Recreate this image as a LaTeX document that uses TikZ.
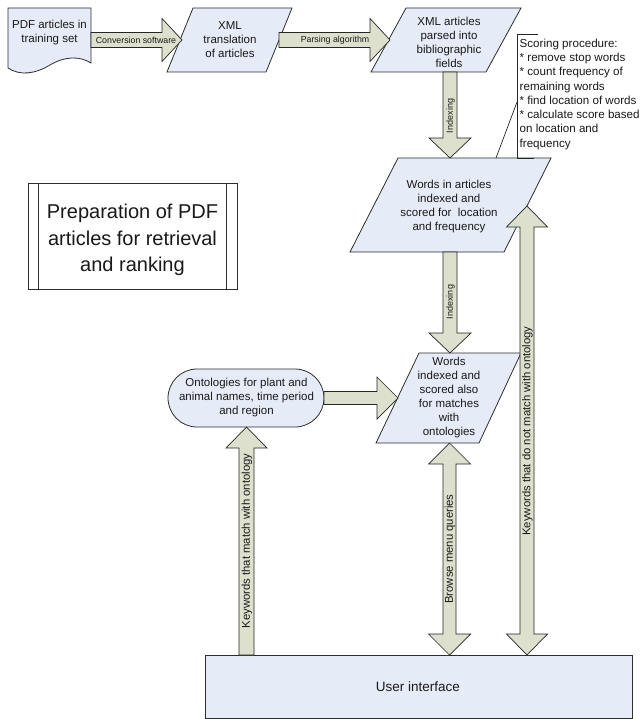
\documentclass[tikz,border=0pt]{standalone}
\usepackage{fontspec}
\setmainfont{Liberation Sans}
\usetikzlibrary{calc}
\definecolor{nodefill}{RGB}{229,235,247}
\definecolor{arrowfill}{RGB}{221,224,204}
\definecolor{edgecol}{RGB}{45,45,45}
\definecolor{txtcol}{RGB}{25,25,25}
\newcommand\fatarrow[5]{%
  \path (#1) coordinate (fa-s) (#2) coordinate (fa-t) ($(fa-t)!#5!(fa-s)$) coordinate (fa-b);
  \draw[fatstyle] ($(fa-s)!#3!90:(fa-t)$) -- ($(fa-b)!#3!-90:(fa-s)$) -- ($(fa-b)!#4!-90:(fa-s)$) -- (fa-t)
     -- ($(fa-b)!#4!90:(fa-s)$) -- ($(fa-b)!#3!90:(fa-s)$) -- ($(fa-s)!#3!-90:(fa-t)$) -- cycle;}
\newcommand\dblarrow[5]{%
  \path (#1) coordinate (fa-s) (#2) coordinate (fa-t) ($(fa-t)!#5!(fa-s)$) coordinate (fa-b) ($(fa-s)!#5!(fa-t)$) coordinate (fa-c);
  \draw[fatstyle] (fa-s) -- ($(fa-c)!#4!90:(fa-t)$) -- ($(fa-c)!#3!90:(fa-t)$) -- ($(fa-b)!#3!-90:(fa-s)$)
     -- ($(fa-b)!#4!-90:(fa-s)$) -- (fa-t) -- ($(fa-b)!#4!90:(fa-s)$) -- ($(fa-b)!#3!90:(fa-s)$)
     -- ($(fa-c)!#3!-90:(fa-t)$) -- ($(fa-c)!#4!-90:(fa-t)$) -- cycle;}
\begin{document}
\begin{tikzpicture}[x=1pt,y=-1pt,
  shapebox/.style={draw=edgecol,fill=nodefill,line width=0.8pt,line join=miter},
  fatstyle/.style={draw=black!85,fill=arrowfill,line width=0.7pt,line join=miter},
  txt/.style={align=center,text=txtcol,font=\fontsize{11.5}{14}\selectfont,inner sep=0pt},
  alabel/.style={text=txtcol,font=\fontsize{8.8}{10}\selectfont,inner sep=0pt},
  vlabel/.style={text=txtcol,font=\fontsize{11.3}{13}\selectfont,inner sep=0pt,rotate=90},
  ilabel/.style={text=txtcol,font=\fontsize{9}{10}\selectfont,inner sep=0pt,rotate=90}]
\useasboundingbox (0,0) rectangle (640,719);

% ---------- shapes ----------
% PDF document
\draw[shapebox] (8,8) -- (91,8) -- (91,63) .. controls (80,56) and (65,56) .. (50,65)
   .. controls (35,74) and (20,76) .. (8,68) -- cycle;
\node[txt] (pdf) at (49.5,33) {PDF articles in\\training set};

% XML translation
\draw[shapebox] (193,8) -- (292,8) -- (266,72) -- (167,72) -- cycle;
\node[txt] (xml) at (230,40) {XML\\translation\\of articles};

% XML parsed
\draw[shapebox] (406,8) -- (521,8) -- (486,72) -- (371,72) -- cycle;
\node[txt] (parsed) at (449,42) {XML articles\\parsed into\\bibliographic\\fields};

% Words in articles
\draw[shapebox] (398,158) -- (551,158) -- (504,252) -- (350,252) -- cycle;
\node[txt] (words1) at (449,207) {Words in articles\\indexed and\\scored for\ \ location\\and frequency};

% Words indexed also
\draw[shapebox] (419,353) -- (521,353) -- (479,443) -- (376,443) -- cycle;
\node[txt] (words2) at (449,398) {Words\\indexed and\\scored also\\for matches\\with\\ontologies};

% Ontologies
\draw[shapebox,rounded corners=29pt] (168,369) rectangle (324,427);
\node[txt] (onto) at (246.5,398) {Ontologies for plant and\\animal names, time period\\and region};

% User interface
\draw[shapebox] (205,655) rectangle (632,718);
\node[text=txtcol,font=\fontsize{13.5}{16}\selectfont,inner sep=0pt] (ui) at (418,687) {User interface};

% Preparation box
\draw[draw=edgecol,fill=white,line width=0.8pt] (28,183) rectangle (237,289);
\draw[draw=edgecol,line width=0.8pt] (38,183) -- (38,289) (226,183) -- (226,289);
\node[align=center,text=txtcol,font=\fontsize{20}{26.5}\selectfont,inner sep=0pt] (prep) at (132.5,240)
  {Preparation of PDF\\articles for retrieval\\and ranking};

% Scoring annotation
\draw[draw=black!85,line width=0.8pt] (538,34) -- (517,34) -- (517,158) -- (534,158);
\draw[draw=black!85,line width=0.7pt] (496,158) -- (517,102);
\node[anchor=north west,align=left,text=txtcol,font=\fontsize{11.6}{14.3}\selectfont,inner sep=0pt] (score) at (519.5,38.5)
  {Scoring procedure:\\* remove stop words\\* count frequency of\\remaining words\\* find location of words\\* calculate score based\\on location and\\frequency};

% ---------- connector end points ----------
\coordinate (a1s) at (91,40);   \coordinate (a1t) at (182,40);
\coordinate (a2s) at (279,40);  \coordinate (a2t) at (390,40);
\coordinate (i1s) at (450,72);  \coordinate (i1t) at (450,158);
\coordinate (i2s) at (450,252); \coordinate (i2t) at (450,353);
\coordinate (o1s) at (324,398); \coordinate (o1t) at (398,398);
\coordinate (k1s) at (246.5,655); \coordinate (k1t) at (246.5,427);
\coordinate (b1s) at (449.5,655); \coordinate (b1t) at (449.5,443);
\coordinate (k2s) at (527,655); \coordinate (k2t) at (527,206);

% ---------- fat arrows ----------
\fatarrow{a1s}{a1t}{7.5pt}{21.5pt}{20pt}
\fatarrow{a2s}{a2t}{7.5pt}{21.5pt}{20pt}
\fatarrow{i1s}{i1t}{7pt}{21pt}{20pt}
\fatarrow{i2s}{i2t}{7pt}{21pt}{20pt}
\fatarrow{o1s}{o1t}{6.5pt}{21pt}{21pt}
\fatarrow{k1s}{k1t}{7.5pt}{20.5pt}{21pt}
\dblarrow{b1s}{b1t}{6.5pt}{21pt}{21pt}
\dblarrow{k2s}{k2t}{7pt}{20.5pt}{21pt}

% ---------- arrow labels ----------
\node[alabel] (l1) at (136,40.5) {Conversion software};
\node[alabel] (l2) at (335,40.5) {Parsing algorithm};
\node[ilabel] (l3) at (450.5,116) {Indexing};
\node[ilabel] (l4) at (450.5,302) {Indexing};
\node[vlabel] (l5) at (247,541) {Keywords that match with ontology};
\node[vlabel] (l6) at (450,549) {Browse menu queries};
\node[vlabel] (l7) at (527.5,431) {Keywords that do not match with ontology};
\end{tikzpicture}
\end{document}
